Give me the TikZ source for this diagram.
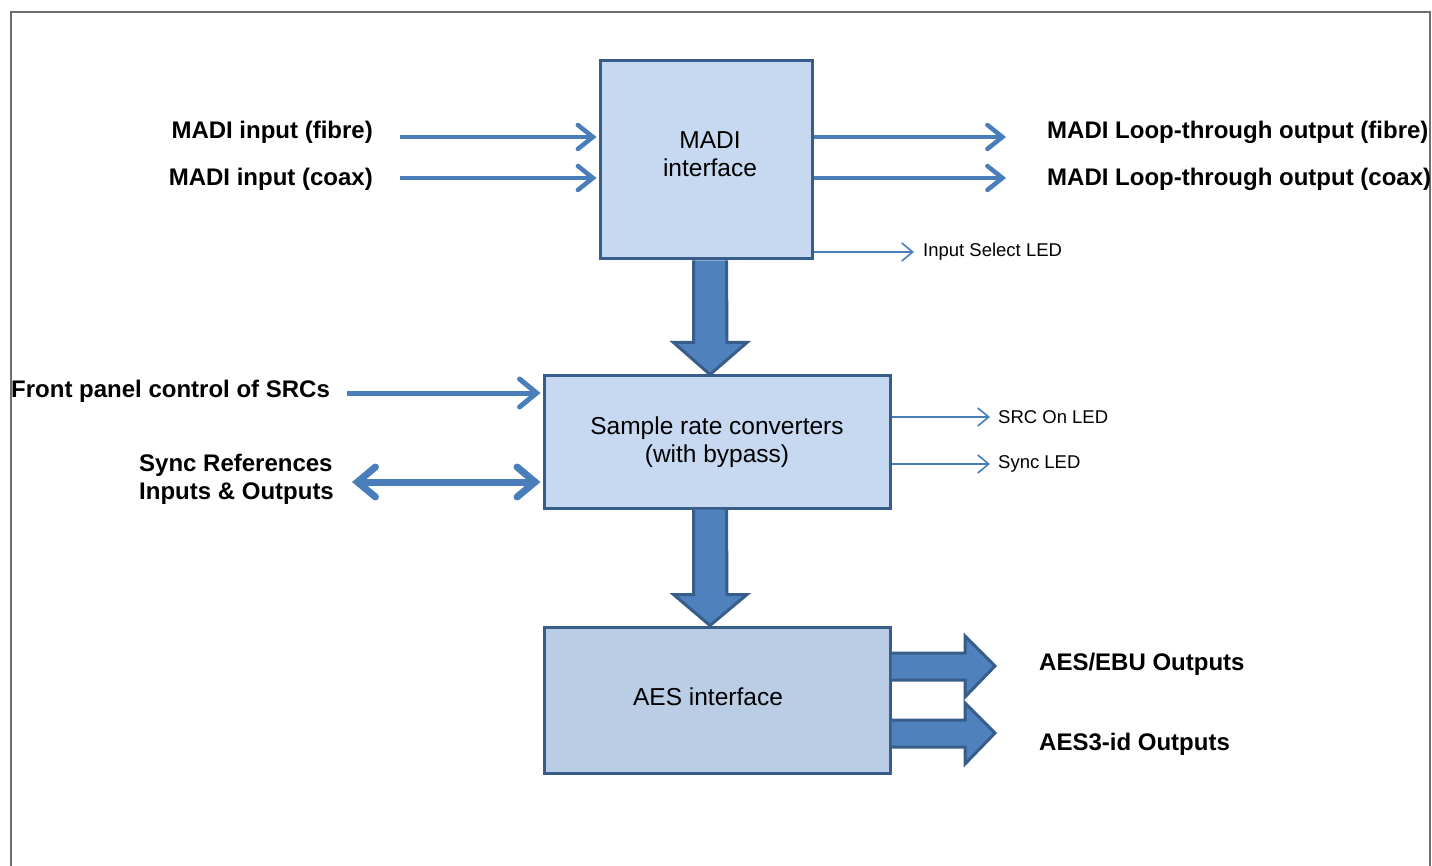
\documentclass[tikz,border=0pt]{standalone}
\usepackage{fontspec}
\setmainfont{Liberation Sans}
\usetikzlibrary{arrows.meta,calc}

\definecolor{boxfill}{RGB}{198,217,241}
\definecolor{aesfill}{RGB}{185,205,229}
\definecolor{boxline}{RGB}{56,93,138}
\definecolor{arrfill}{RGB}{79,129,189}
\definecolor{arrline}{RGB}{74,126,187}
\definecolor{framegray}{RGB}{110,110,110}

\tikzset{
  blockbox/.style={draw=boxline, line width=3pt, fill=boxfill, inner sep=0pt,
    align=center, font=\fontsize{24.5}{29}\selectfont},
  biglabel/.style={font=\fontsize{24}{28}\selectfont\bfseries, inner sep=0pt, align=left},
  ledlabel/.style={font=\fontsize{18.5}{22}\selectfont, inner sep=0pt, anchor=west},
  sigarrow/.style={draw=arrline, line width=4.5pt,
    -{Straight Barb[length=15pt,width=24pt,line cap=round]}},
  ledarrow/.style={draw=arrline, line width=1.6pt,
    -{Straight Barb[length=11pt,width=18pt]}},
  fatarrow/.style={draw=boxline, line width=3pt, fill=arrfill, line join=miter}
}

\begin{document}
\begin{tikzpicture}[x=1pt,y=-1pt]
\useasboundingbox (0,0) rectangle (1432,866);
% frame, open at the bottom
\draw[framegray, line width=2pt] (11,866) -- (11,12) -- (1430,12) -- (1430,866);

% the three blocks
\node[blockbox, minimum width=212pt, minimum height=198pt] (madi) at (706,160) {};
\node[blockbox, draw=none, fill=none] (madit) at (710,154) {MADI\\[-1pt]interface};
\node[blockbox, minimum width=346pt, minimum height=132pt] (src) at (717,442)
  {Sample rate converters\\[-1pt](with bypass)};
\node[blockbox, fill=aesfill, minimum width=346pt, minimum height=146pt] (aes) at (717,700) {};
\node[blockbox, draw=none, fill=none] (aest) at (708,697) {AES interface};

% fat arrows between the blocks
\draw[fatarrow] ($(madi.south)+(-12.5,0)$) -- ++(0,82) -- ++(-20,0) -- ($(madi.south|-src.north)+(4,0)$)
  -- ($(madi.south)+(41,82)$) -- ++(-20,0) -- ($(madi.south)+(20.5,0)$);
\draw[fatarrow] ($(src.south)+(-23.5,0)$) -- ++(0,85) -- ++(-20,0) -- ($(src.south|-aes.north)+(-7,0)$)
  -- ($(src.south)+(30,85)$) -- ++(-20,0) -- ($(src.south)+(9.5,0)$);
% fat outputs of the AES block
\draw[fatarrow] ($(aes.east|-0,653)$) -- (965,653) -- (965,636) -- (995,666) -- (965,697) -- (965,680)
  -- ($(aes.east|-0,680)$);
\draw[fatarrow] ($(aes.east|-0,720)$) -- (965,720) -- (965,703) -- (995,733) -- (965,764) -- (965,747)
  -- ($(aes.east|-0,747)$);

% MADI inputs and loop-through
\node[biglabel, anchor=east] (fibrein) at (373,132) {MADI input (fibre)};
\node[biglabel, anchor=east] (coaxin) at (373,179) {MADI input (coax)};
\coordinate (fibrestart) at (400,137);
\coordinate (coaxstart) at (400,178);
\draw[sigarrow] (fibrestart) -- ($(madi.west|-fibrestart)+(-2,0)$);
\draw[sigarrow] (coaxstart) -- ($(madi.west|-coaxstart)+(-2,0)$);

\node[biglabel, anchor=west] (fibreout) at (1047,132) {MADI Loop-through output (fibre)};
\node[biglabel, anchor=west] (coaxout) at (1047,179) {MADI Loop-through output (coax)};
\coordinate (fibreend) at (1006,137);
\coordinate (coaxend) at (1006,178);
\draw[sigarrow] (madi.east|-fibreend) -- (fibreend);
\draw[sigarrow] (madi.east|-coaxend) -- (coaxend);

\coordinate (selend) at (914,252);
\draw[ledarrow] (madi.east|-selend) -- (selend);
\node[ledlabel] (sel) at (923,252) {Input Select LED};

% SRC controls
\node[biglabel, anchor=west] (front) at (11,391) {Front panel control of SRCs};
\node[biglabel, anchor=west] (sync) at (139,479) {Sync References\\[0pt]Inputs \& Outputs};
\coordinate (frontstart) at (347,393);
\coordinate (syncstart) at (352,482);
\draw[draw=arrline, line width=5pt, -{Straight Barb[length=17pt,width=28pt,line cap=round]}]
  (frontstart) -- ($(src.west|-frontstart)+(-2,0)$);
\draw[draw=arrline, line width=7pt,
  {Straight Barb[length=18pt,width=30pt,line cap=round]}-{Straight Barb[length=18pt,width=30pt,line cap=round]}]
  (syncstart) -- ($(src.west|-syncstart)+(-2,0)$);

\coordinate (srcledend) at (990,417);
\coordinate (syncledend) at (990,464);
\draw[ledarrow] (src.east|-srcledend) -- (srcledend);
\draw[ledarrow] (src.east|-syncledend) -- (syncledend);
\node[ledlabel] (srcled) at (998,417) {SRC On LED};
\node[ledlabel] (syncled) at (998,464) {Sync LED};

% AES outputs
\node[biglabel, anchor=west] (aesebu) at (1039,664) {AES/EBU Outputs};
\node[biglabel, anchor=west] (aesid) at (1039,744) {AES3-id Outputs};
\end{tikzpicture}
\end{document}
